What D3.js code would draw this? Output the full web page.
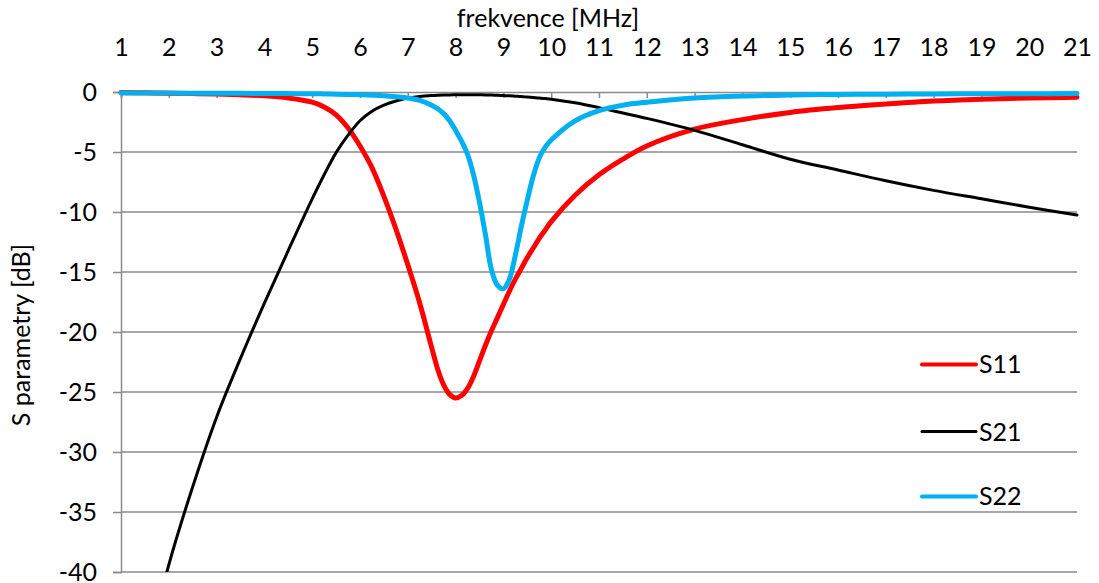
<!DOCTYPE html>
<html>
<head>
<meta charset="utf-8">
<script src="https://cdn.jsdelivr.net/npm/d3@7"></script>
<style>
  html, body { margin: 0; padding: 0; background: #fff; }
  svg { display: block; }
  text { font-family: Lato, "Open Sans", sans-serif; fill: #000; }
</style>
</head>
<body>
<svg id="chart" width="1099" height="583"></svg>
<script>
// ---- data ----
const freqs = [1, 1.5, 2, 2.5, 3, 3.5, 4, 4.5, 5, 5.25, 5.5, 5.75, 6, 6.25, 6.5, 6.75, 7, 7.25, 7.5, 7.625, 7.75, 7.875,
               8, 8.125, 8.25, 8.375, 8.5, 8.625, 8.75, 8.875, 9, 9.125, 9.25, 9.375, 9.5, 9.625, 9.75, 9.875, 10,
               10.5, 11, 11.5, 12, 13, 14, 15, 16, 17, 18, 19, 20, 21];
const s11 = [-0.05, -0.07, -0.1, -0.13, -0.17, -0.23, -0.32, -0.5, -0.85, -1.25, -1.9, -3.0, -4.5, -6.3, -8.7, -11.4,
             -14.4, -17.6, -21.3, -23.1, -24.4, -25.2, -25.5, -25.3, -24.7, -23.7, -22.4, -21.1, -19.9, -18.8, -17.7,
             -16.6, -15.6, -14.7, -13.8, -13.0, -12.2, -11.5, -10.8,
             -8.6, -6.9, -5.6, -4.5, -3.1, -2.3, -1.7, -1.3, -1.0, -0.75, -0.6, -0.5, -0.43];
const s21 = [null, -47.5, -39.4, -32.9, -27.1, -22.2, -17.6, -13.2, -8.9, -6.9, -5.05, -3.6, -2.4, -1.6, -1.1, -0.75,
             -0.5, -0.38, -0.3, -0.27, -0.25, -0.24, -0.23, -0.22, -0.22, -0.22, -0.23, -0.24, -0.26, -0.28, -0.3,
             -0.32, -0.35, -0.38, -0.42, -0.46, -0.5, -0.55, -0.6,
             -0.9, -1.3, -1.75, -2.2, -3.2, -4.4, -5.6, -6.5, -7.4, -8.2, -8.9, -9.6, -10.25];
const s22 = [-0.08, -0.08, -0.09, -0.1, -0.1, -0.11, -0.12, -0.13, -0.15, -0.16, -0.18, -0.2, -0.23, -0.27, -0.32, -0.4,
             -0.5, -0.7, -1.1, -1.4, -1.8, -2.4, -3.2, -4.1, -5.2, -6.9, -9.2, -11.9, -14.8, -16.1, -16.4,
             -15.6, -13.6, -11.2, -9.0, -7.0, -5.5, -4.6, -4.0,
             -2.4, -1.55, -1.1, -0.85, -0.5, -0.33, -0.25, -0.2, -0.18, -0.16, -0.15, -0.14, -0.13];
const seriesNames = ["S11", "S21", "S22"];
const seriesColors = ["#FF0000", "#000000", "#00B0F0"];
const xTicks = d3.range(1, 22);
const yTicks = [0, -5, -10, -15, -20, -25, -30, -35, -40];
const xTitle = "frekvence [MHz]";
const yTitle = "S parametry [dB]";

(function () {
// ---- layout ----
const svg = d3.select("#chart");
const mLeft = 121, mRight = 1077, mTop = 92, mBottom = 572;
const x = d3.scaleLinear().domain([1, 21]).range([mLeft, mRight]);
const y = d3.scaleLinear().domain([0, -40]).range([mTop, mBottom]);
const gridColor = "#8A8A8A";
const font = "Lato, 'Open Sans', sans-serif";
const fs = 25;

// gridlines
svg.append("g").selectAll("line").data(yTicks.filter(d => d !== 0)).join("line")
  .attr("x1", mLeft).attr("x2", mRight)
  .attr("y1", d => y(d)).attr("y2", d => y(d))
  .attr("stroke", gridColor).attr("stroke-width", 1.5);

// top x axis
const xAxis = d3.axisTop(x).tickValues(xTicks).tickSize(-6).tickPadding(36).tickFormat(d => String(d));
const gx = svg.append("g").attr("transform", `translate(0,${mTop})`).call(xAxis);
gx.select(".domain").attr("stroke", gridColor).attr("stroke-width", 1.5);
gx.selectAll(".tick line").attr("stroke", gridColor).attr("stroke-width", 1.5);
gx.selectAll(".tick text").attr("font-size", fs).attr("font-family", font).attr("fill", "#000");

// left y axis
const yAxis = d3.axisLeft(y).tickValues(yTicks).tickSize(8).tickPadding(16).tickFormat(d => String(d));
const gy = svg.append("g").attr("transform", `translate(${mLeft},0)`).call(yAxis);
gy.select(".domain").attr("stroke", gridColor).attr("stroke-width", 1.5);
gy.selectAll(".tick line").attr("stroke", gridColor).attr("stroke-width", 1.5);
gy.selectAll(".tick text").attr("font-size", fs).attr("font-family", font).attr("fill", "#000");

// titles
svg.append("text").attr("x", 548).attr("y", 27)
  .attr("text-anchor", "middle").attr("font-size", fs).text(xTitle);
svg.append("text").attr("transform", `translate(30,${(mTop + mBottom) / 2 + 3}) rotate(-90)`)
  .attr("text-anchor", "middle").attr("font-size", fs).text(yTitle);

// clip
svg.append("clipPath").attr("id", "plotclip").append("rect")
  .attr("x", mLeft - 5).attr("y", mTop - 5).attr("width", mRight - mLeft + 10).attr("height", mBottom - mTop + 5);

const allSeries = [s11, s21, s22];
const widths = [5, 3, 5];
const line = d3.line()
  .defined(d => d[1] !== null)
  .x(d => x(d[0])).y(d => y(d[1]))
  .curve(d3.curveCatmullRom.alpha(0.5));

const plot = svg.append("g").attr("clip-path", "url(#plotclip)");
allSeries.forEach((vals, i) => {
  plot.append("path")
    .datum(freqs.map((f, j) => [f, vals[j]]))
    .attr("d", line)
    .attr("fill", "none")
    .attr("stroke", seriesColors[i])
    .attr("stroke-width", widths[i])
    .attr("stroke-linejoin", "round")
    .attr("stroke-linecap", "round");
});

// legend
const legendY = [-22.7, -28.3, -33.7];
const lg = svg.append("g");
seriesNames.forEach((name, i) => {
  const yy = y(legendY[i]);
  lg.append("line").attr("x1", 922).attr("x2", 976).attr("y1", yy).attr("y2", yy)
    .attr("stroke", seriesColors[i]).attr("stroke-width", widths[i] === 5 ? 4 : 3)
    .attr("stroke-linecap", "round");
  lg.append("text").attr("x", 979).attr("y", yy + 9).attr("font-size", fs).text(name);
});
})();
</script>
</body>
</html>
